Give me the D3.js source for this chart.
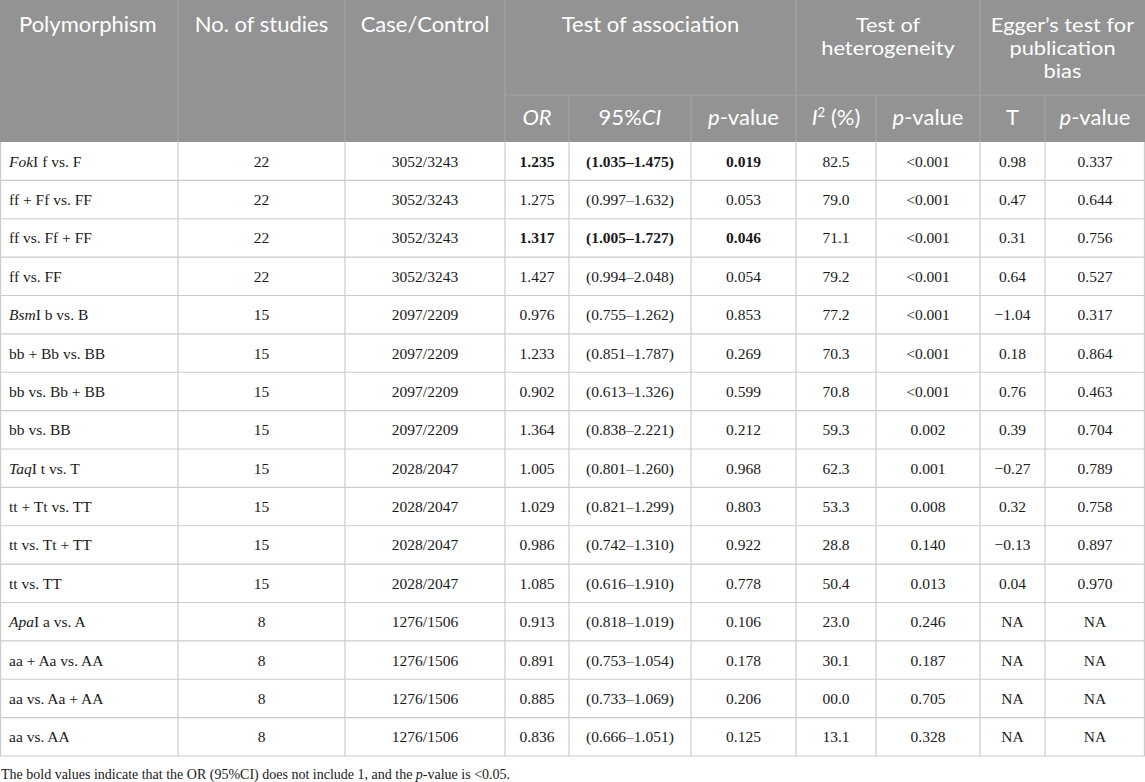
<!DOCTYPE html>
<html><head><meta charset="utf-8">
<script src="https://cdn.jsdelivr.net/npm/d3@7/dist/d3.min.js"></script>
<style>
html,body{margin:0;padding:0;background:#fff;}
svg{display:block;}
</style></head>
<body>
<svg id="chart" width="1145" height="782"></svg>
<script>
// ---------- DATA ----------
const polymorphisms = [
  "<i>Fok</i>I f vs. F","ff + Ff vs. FF","ff vs. Ff + FF","ff vs. FF",
  "<i>Bsm</i>I b vs. B","bb + Bb vs. BB","bb vs. Bb + BB","bb vs. BB",
  "<i>Taq</i>I t vs. T","tt + Tt vs. TT","tt vs. Tt + TT","tt vs. TT",
  "<i>Apa</i>I a vs. A","aa + Aa vs. AA","aa vs. Aa + AA","aa vs. AA"
];
const numStudies = [22,22,22,22,15,15,15,15,15,15,15,15,8,8,8,8];
const caseControl = ["3052/3243","3052/3243","3052/3243","3052/3243",
  "2097/2209","2097/2209","2097/2209","2097/2209",
  "2028/2047","2028/2047","2028/2047","2028/2047",
  "1276/1506","1276/1506","1276/1506","1276/1506"];
const orValues = ["1.235","1.275","1.317","1.427","0.976","1.233","0.902","1.364",
  "1.005","1.029","0.986","1.085","0.913","0.891","0.885","0.836"];
const ci95 = ["(1.035–1.475)","(0.997–1.632)","(1.005–1.727)","(0.994–2.048)",
  "(0.755–1.262)","(0.851–1.787)","(0.613–1.326)","(0.838–2.221)",
  "(0.801–1.260)","(0.821–1.299)","(0.742–1.310)","(0.616–1.910)",
  "(0.818–1.019)","(0.753–1.054)","(0.733–1.069)","(0.666–1.051)"];
const pAssociation = ["0.019","0.053","0.046","0.054","0.853","0.269","0.599","0.212",
  "0.968","0.803","0.922","0.778","0.106","0.178","0.206","0.125"];
const i2Values = ["82.5","79.0","71.1","79.2","77.2","70.3","70.8","59.3",
  "62.3","53.3","28.8","50.4","23.0","30.1","00.0","13.1"];
const pHeterogeneity = ["<0.001","<0.001","<0.001","<0.001","<0.001","<0.001","<0.001","0.002",
  "0.001","0.008","0.140","0.013","0.246","0.187","0.705","0.328"];
const eggerT = ["0.98","0.47","0.31","0.64","−1.04","0.18","0.76","0.39",
  "−0.27","0.32","−0.13","0.04","NA","NA","NA","NA"];
const eggerP = ["0.337","0.644","0.756","0.527","0.317","0.864","0.463","0.704",
  "0.789","0.758","0.897","0.970","NA","NA","NA","NA"];
const boldRows = [0,2];  // OR, 95%CI and p-value shown in bold

const topHeaders = [
  {lines:["Polymorphism"], c0:0, c1:1, align:"left"},
  {lines:["No. of studies"], c0:1, c1:2},
  {lines:["Case/Control"], c0:2, c1:3},
  {lines:["Test of association"], c0:3, c1:6},
  {lines:["Test of","heterogeneity"], c0:6, c1:8},
  {lines:["Egger’s test for","publication","bias"], c0:8, c1:10}
];
const subHeaders = ["<i>OR</i>","95%<i>CI</i>","<i>p</i>-value","<i>I</i><sup>2</sup> (%)","<i>p</i>-value","T","<i>p</i>-value"];
const footnote = "The bold values indicate that the OR (95%CI) does not include 1, and the <i>p</i>-value is &lt;0.05.";

// ---------- LAYOUT ----------
const W = 1145;
const colEdges = [0,178,345,505,569,691,796,876,980,1045,1145];
const headTop = 0, headMid = 95, headBottom = 142, tableBottom = 756;
const headerBg = "#939393", headerLine = "#a3a3a3", gridLine = "#cccccc";
const bodyFont = "'Liberation Serif','Times New Roman',serif";
const headFont = "Lato,'Open Sans',sans-serif";

const svg = d3.select("#chart");
const x = d3.scaleOrdinal().domain(d3.range(colEdges.length)).range(colEdges);
const y = d3.scaleBand().domain(d3.range(polymorphisms.length)).range([headBottom, tableBottom]);

// rich text helper
function rich(sel, str) {
  str = str.replace(/&lt;/g,"<LT>");
  const re = /<(\/?)(i|b|sup|LT)>/g;
  let st = {i:false,b:false,sup:false}, last = 0, m;
  const parts = [];
  while ((m = re.exec(str)) !== null) {
    if (m.index > last) parts.push({t:str.slice(last,m.index), ...st});
    if (m[2] === "LT") parts.push({t:"<", ...st});
    else st[m[2]] = m[1] !== "/";
    last = re.lastIndex;
  }
  if (last < str.length) parts.push({t:str.slice(last), ...st});
  parts.forEach(p => {
    const ts = sel.append("tspan").text(p.t);
    if (p.i) ts.attr("font-style","italic");
    if (p.b) ts.attr("font-weight","bold");
    if (p.sup) ts.attr("baseline-shift","super").attr("font-size","0.6em");
  });
}

// ---------- HEADER ----------
svg.append("rect").attr("x",0).attr("y",headTop).attr("width",W).attr("height",headBottom-headTop).attr("fill",headerBg);

const hl = svg.append("g").attr("stroke",headerLine).attr("stroke-width",1.2);
[1,2,3,6,8].forEach(c => hl.append("line").attr("x1",x(c)).attr("x2",x(c)).attr("y1",headTop).attr("y2",headBottom));
[4,5,7,9].forEach(c => hl.append("line").attr("x1",x(c)).attr("x2",x(c)).attr("y1",headMid).attr("y2",headBottom));
hl.append("line").attr("x1",x(3)).attr("x2",W).attr("y1",headMid).attr("y2",headMid);

const hg = svg.append("g").attr("font-family",headFont).attr("fill","#ffffff");
topHeaders.forEach(h => {
  const left = h.align === "left";
  const xx = left ? x(h.c0)+19 : (x(h.c0)+x(h.c1))/2;
  const multi = h.lines.length > 1;
  h.lines.forEach((ln,i) => {
    const t = hg.append("text")
      .attr("text-anchor", left ? "start" : "middle")
      .attr("font-size", multi ? 19 : 22)
      .attr("transform", `translate(${xx},${32 + i*23})` + (multi ? " scale(1.15,1)" : ""))
      .text(ln);
  });
});
subHeaders.forEach((s,i) => {
  const c = i+3;
  const t = hg.append("text").attr("x",(x(c)+x(c+1))/2).attr("y",125)
    .attr("font-size",22).attr("text-anchor","middle");
  rich(t, s);
});

// ---------- BODY ----------
const grid = svg.append("g").attr("stroke",gridLine).attr("stroke-width",1.2);
d3.range(polymorphisms.length).forEach(r => {
  grid.append("line").attr("x1",0).attr("x2",W).attr("y1",y(r)+y.bandwidth()).attr("y2",y(r)+y.bandwidth());
});
colEdges.forEach((cx,i) => {
  const xx = i===0 ? 0.6 : (i===colEdges.length-1 ? W-0.6 : cx);
  grid.append("line").attr("x1",xx).attr("x2",xx).attr("y1",headBottom).attr("y2",tableBottom);
});

const columns = [polymorphisms, numStudies, caseControl, orValues, ci95, pAssociation, i2Values, pHeterogeneity, eggerT, eggerP];
const bg = svg.append("g").attr("font-family",bodyFont).attr("font-size",15.5).attr("fill","#1a1a1a");
columns.forEach((arr,c) => {
  arr.forEach((v,r) => {
    const left = c===0;
    const t = bg.append("text")
      .attr("x", left ? x(c)+9 : (x(c)+x(c+1))/2)
      .attr("y", y(r)+y.bandwidth()/2+5.5)
      .attr("text-anchor", left ? "start" : "middle");
    if (c>=3 && c<=5 && boldRows.includes(r)) t.attr("font-weight","bold");
    rich(t, String(v));
  });
});

// ---------- FOOTNOTE ----------
const fn = svg.append("text").attr("x",1).attr("y",779).attr("font-family",bodyFont).attr("font-size",14).attr("fill","#1a1a1a");
rich(fn, footnote);
</script>
</body></html>
